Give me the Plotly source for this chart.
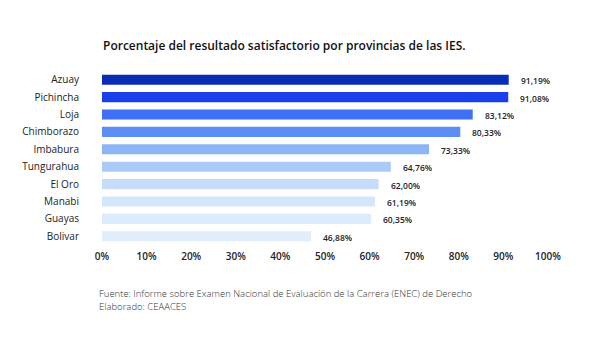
import plotly.graph_objects as go

provincias = ["Azuay", "Pichincha", "Loja", "Chimborazo", "Imbabura",
              "Tungurahua", "El Oro", "Manabi", "Guayas", "Bolivar"]
valores = [91.19, 91.08, 83.12, 80.33, 73.33, 64.76, 62.00, 61.19, 60.35, 46.88]
colores = ["#0a2db5", "#1a40ee", "#3f6ff4", "#5c8ef5", "#8cb5f7",
           "#aacbfa", "#c4dcfa", "#d3e6fb", "#dbebfb", "#e1eefc"]
x_ticks = [0, 10, 20, 30, 40, 50, 60, 70, 80, 90, 100]
x_tick_labels = [f"{t}%" for t in x_ticks]

etiquetas = [f"{v:.2f}".replace(".", ",") + "%" for v in valores]

fig = go.Figure()
fig.add_trace(go.Bar(
    x=valores, y=provincias, orientation="h",
    marker=dict(color=colores, line=dict(width=0)),
    width=0.58, hoverinfo="skip",
))

for v, p, t in zip(valores, provincias, etiquetas):
    fig.add_annotation(x=v, y=p, text=t, showarrow=False, xanchor="left",
                       xshift=10, yshift=-1,
                       font=dict(family="Open Sans", size=8.5, color="#222222", weight=600))

fig.add_annotation(xref="paper", yref="paper", x=-0.002, y=1.146, xanchor="left", yanchor="middle",
                   text="Porcentaje del resultado satisfactorio por provincias de las IES.",
                   showarrow=False,
                   font=dict(family="Open Sans", size=12, color="#111111", weight=600))

fig.add_annotation(xref="paper", yref="paper", x=-0.012, y=-0.279, xanchor="left", yanchor="middle",
                   text="Fuente: Informe sobre Examen Nacional de Evaluación de la Carrera (ENEC) de Derecho",
                   showarrow=False,
                   font=dict(family="Open Sans", size=9.5, color="#333333", weight=300))
fig.add_annotation(xref="paper", yref="paper", x=-0.012, y=-0.354, xanchor="left", yanchor="middle",
                   text="Elaborado: CEAACES",
                   showarrow=False,
                   font=dict(family="Open Sans", size=9.5, color="#333333", weight=300))

fig.update_layout(
    width=600, height=345,
    margin=dict(l=101.6, r=51.6, t=71.3, b=100.3),
    paper_bgcolor="white", plot_bgcolor="white",
    showlegend=False,
    xaxis=dict(range=[0, 100], tickvals=x_ticks, ticktext=x_tick_labels,
               showgrid=False, zeroline=False, showline=False, ticks="",
               tickfont=dict(family="Open Sans", size=10, color="#222222", weight=600),
               ticklabelstandoff=4, fixedrange=True),
    yaxis=dict(categoryorder="array", categoryarray=provincias, autorange="reversed",
               showgrid=False, zeroline=False, showline=False, ticks="",
               tickfont=dict(family="Open Sans", size=10, color="#222222"),
               ticklabelstandoff=22, fixedrange=True),
)

fig.write_html("out.html")
